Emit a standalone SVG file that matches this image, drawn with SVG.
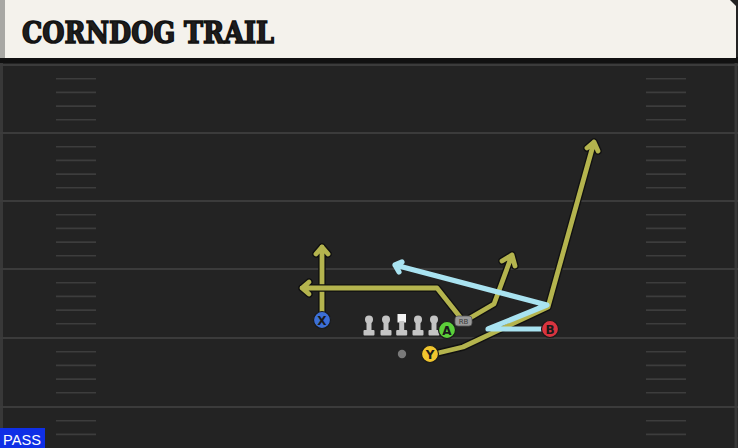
<svg xmlns="http://www.w3.org/2000/svg" width="738" height="448" viewBox="0 0 738 448">
<defs>
<style>
.yl{stroke:#3b3b3b;stroke-width:2}
.hm{stroke:#3d3d3d;stroke-width:1.6}
.ro{fill:none;stroke:#111;stroke-width:7.5;stroke-linejoin:round;stroke-linecap:round}
.ol{fill:none;stroke:#b4b44e;stroke-width:4.8;stroke-linejoin:round;stroke-linecap:round}
.bl{fill:none;stroke:#a9e3f1;stroke-width:5.2;stroke-linejoin:round;stroke-linecap:round}
.lt{font-family:"DejaVu Sans",sans-serif;font-weight:bold;font-size:12px;fill:#1a1a1a;text-anchor:middle}
.pc{stroke:#1a1a1a;stroke-width:1.2}
.ln{fill:#c4c4c4}
</style>
<g id="hashes">
<line class="hm" x1="56" x2="96" y1="0" y2="0"/>
<line class="hm" x1="646" x2="686" y1="0" y2="0"/>
</g>
<g id="hashset">
<use href="#hashes" y="13.7"/><use href="#hashes" y="27.4"/><use href="#hashes" y="41.1"/><use href="#hashes" y="54.8"/>
</g>
<g id="lineman">
<circle cx="0" cy="-12.5" r="4" class="ln"/>
<rect x="-2.5" y="-11" width="5" height="10" class="ln"/>
<rect x="-5.5" y="-2" width="11" height="5.5" rx="1" class="ln"/>
</g>
</defs>
<rect width="738" height="448" fill="#232323"/>
<g id="field">
<line x1="1.5" y1="60" x2="1.5" y2="448" stroke="#383838" stroke-width="3"/>
<line x1="736" y1="60" x2="736" y2="448" stroke="#383838" stroke-width="3"/>
<line class="yl" x1="0" x2="738" y1="65" y2="65"/>
<line class="yl" x1="0" x2="738" y1="133" y2="133"/>
<line class="yl" x1="0" x2="738" y1="201" y2="201"/>
<line class="yl" x1="0" x2="738" y1="269" y2="269"/>
<line class="yl" x1="0" x2="738" y1="338" y2="338"/>
<line class="yl" x1="0" x2="738" y1="407" y2="407"/>
<use href="#hashset" y="65"/>
<use href="#hashset" y="133"/>
<use href="#hashset" y="201"/>
<use href="#hashset" y="269"/>
<use href="#hashset" y="338"/>
<use href="#hashes" y="420.7"/>
<use href="#hashes" y="434.4"/>
</g>
<g id="header">
<rect x="0" y="57" width="738" height="6" fill="#111"/>
<path d="M0 0 H730 L736 6 V58 H0 Z" fill="#f4f2ec"/>
<rect x="0" y="0" width="5" height="58" fill="#a8a8a4"/>
<text x="22" y="43" font-family="'DejaVu Serif',serif" font-weight="bold" font-size="30" fill="#1e1e1e" stroke="#111" stroke-width="1.6" textLength="252" lengthAdjust="spacingAndGlyphs">CORNDOG TRAIL</text>
</g>
<g id="connectors">
<path class="ro" d="M322 312 V247 M316 254 L322 247 L328 254"/>
<path class="ol" d="M322 312 V247 M316 254 L322 247 L328 254"/>
<path class="ro" d="M460 317 L437 288 H302 M309 282 L302 288 L309 294"/>
<path class="ol" d="M460 317 L437 288 H302 M309 282 L302 288 L309 294"/>
<path class="ro" d="M470 318 L494 304 L512 255 M502 261 L512 255 L515 266"/>
<path class="ol" d="M470 318 L494 304 L512 255 M502 261 L512 255 L515 266"/>
<path class="ro" d="M438 353 L463 347 L548 307 L594 142 M587 148 L594 142 L598 151"/>
<path class="ol" d="M438 353 L463 347 L548 307 L594 142 M587 148 L594 142 L598 151"/>
<path class="bl" d="M543 329 H488 L547 305 L395 265 M402 262 L395 265 L399 272"/>
</g>
<g id="lineman1"><use href="#lineman" x="369" y="332"/></g>
<g id="lineman2"><use href="#lineman" x="386" y="332"/></g>
<g id="center"><rect x="397.5" y="314" width="8.5" height="8.5" fill="#f2f2f2"/><rect x="399.2" y="321" width="5" height="9" class="ln"/><rect x="396.2" y="330" width="11" height="5.5" rx="1" class="ln"/></g>
<g id="lineman4"><use href="#lineman" x="418" y="332"/></g>
<g id="lineman5"><use href="#lineman" x="434" y="332"/></g>
<g id="qb"><circle cx="402" cy="354" r="4.2" fill="#7a7a7a"/></g>
<g id="rb"><rect x="455" y="316" width="17" height="10" rx="3" fill="#9a9a9a" stroke="#555" stroke-width="0.8"/><text x="463.5" y="324" font-family="'DejaVu Sans',sans-serif" font-size="7" fill="#3a3a3a" text-anchor="middle">RB</text></g>
<g id="A"><circle cx="447" cy="330" r="8.5" fill="#5ccf3a" class="pc"/><text x="447" y="334.5" class="lt">A</text></g>
<g id="X"><circle cx="322" cy="320" r="8.5" fill="#3c6fd6" class="pc"/><text x="322" y="324.5" class="lt">X</text></g>
<g id="Y"><circle cx="430" cy="354" r="8.5" fill="#f0c52e" class="pc"/><text x="430" y="358.5" class="lt">Y</text></g>
<g id="B"><circle cx="550" cy="329" r="8.5" fill="#d9343f" class="pc"/><text x="550" y="333.5" class="lt">B</text></g>
<g id="pass"><rect x="0" y="428" width="45" height="20" fill="#0f2fe6"/><text x="3" y="444.5" font-family="'Liberation Sans',sans-serif" font-size="15" fill="#ffffff" textLength="38" lengthAdjust="spacingAndGlyphs">PASS</text></g>
</svg>
